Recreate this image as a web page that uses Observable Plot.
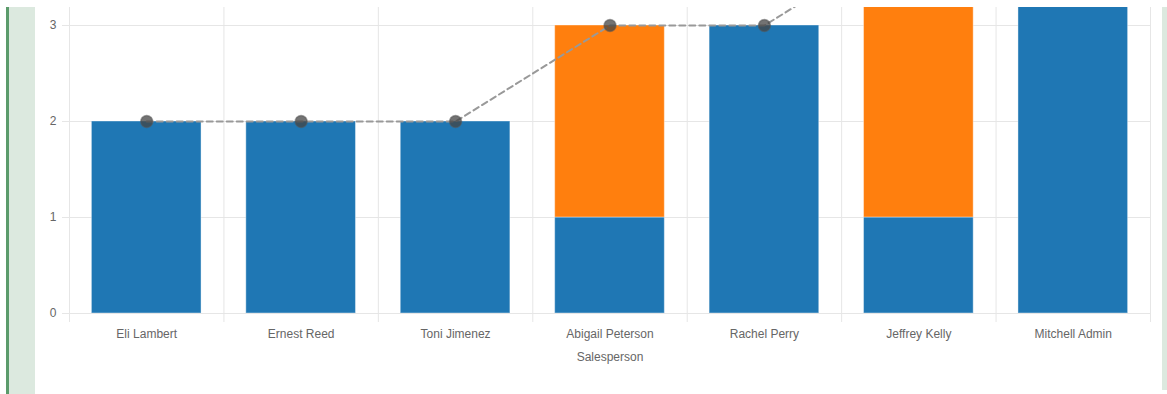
<!DOCTYPE html>
<html><head><meta charset="utf-8">
<script src="https://cdn.jsdelivr.net/npm/d3@7"></script>
<script src="https://cdn.jsdelivr.net/npm/@observablehq/plot@0.6"></script>
<style>
html,body{margin:0;padding:0;background:#fff;}
#wrap{position:relative;width:1167px;height:394px;overflow:hidden;}
.strip{position:absolute;}
#chart{position:absolute;left:0;top:0;}
</style></head><body>
<div id="wrap">
<div class="strip" style="left:6px;top:7px;width:3px;height:387px;background:#5b9b6b"></div>
<div class="strip" style="left:9px;top:7px;width:26px;height:387px;background:#dce9df"></div>
<div class="strip" style="left:1162px;top:7px;width:5px;height:383px;background:#dce9df"></div>
<div id="chart"></div>
</div>
<script>
const categories = ["Eli Lambert","Ernest Reed","Toni Jimenez","Abigail Peterson","Rachel Perry","Jeffrey Kelly","Mitchell Admin"];
const blueValues = [2,2,2,1,3,1,4];
const orangeValues = [0,0,0,2,0,3,0];
const lineValues = [2,2,2,3,3,4,4];
const yTicks = [0,1,2,3];
const seriesColors = ["#1f77b4","#ff7f0e"];

const n = categories.length;
const idx = categories.map((_, i) => i);
const bounds = d3.range(n + 1).map(i => i - 0.5);
const half = 0.355;
const rows = [];
categories.forEach((c, i) => {
  rows.push({i, series: "a", y1: 0, y2: blueValues[i]});
  if (orangeValues[i] > 0) rows.push({i, series: "b", y1: blueValues[i], y2: blueValues[i] + orangeValues[i]});
});
const points = idx.map(i => ({i, v: lineValues[i]}));

const chart = Plot.plot({
  width: 1167, height: 394,
  marginTop: 7, marginLeft: 69, marginRight: 17, marginBottom: 81,
  style: {background: "transparent", fontFamily: "'Liberation Sans', Arial, Helvetica, sans-serif", fontSize: "12px", color: "#666"},
  x: {type: "linear", domain: [-0.5, n - 0.5]},
  y: {domain: [0, 3.1875]},
  color: {domain: ["a", "b"], range: seriesColors},
  marks: [
    Plot.ruleY(yTicks, {stroke: "#e6e6e6", x1: -0.5, x2: n - 0.5}),
    Plot.ruleX(bounds, {stroke: "#e6e6e6"}),
    Plot.axisY({ticks: yTicks, tickSize: 7, tickPadding: 6, stroke: "#e6e6e6", fill: "#666", label: null, tickFormat: d => d}),
    Plot.axisX({ticks: bounds, tickSize: 9, stroke: "#e6e6e6", tickFormat: () => "", label: null}),
    Plot.axisX({ticks: idx, tickSize: 0, tickPadding: 16, fill: "#666", tickFormat: i => categories[i], label: null}),
    Plot.text(["Salesperson"], {frameAnchor: "bottom", dy: 44, lineAnchor: "middle", fill: "#666", fontSize: 12}),
    Plot.rect(rows, {x1: d => d.i - half, x2: d => d.i + half, y1: "y1", y2: "y2", fill: "series", stroke: "#ffffff", strokeOpacity: 0.4, strokeWidth: 1, clip: true}),
    Plot.line(points, {x: "i", y: "v", stroke: "#999", strokeWidth: 2, strokeDasharray: "6 4", clip: true}),
    Plot.dot(points, {x: "i", y: "v", r: 6, fill: "#444", fillOpacity: 0.75, stroke: "#555", strokeOpacity: 0.5, strokeWidth: 1.5, clip: true})
  ]
});
document.getElementById("chart").appendChild(chart);
</script>
</body></html>
